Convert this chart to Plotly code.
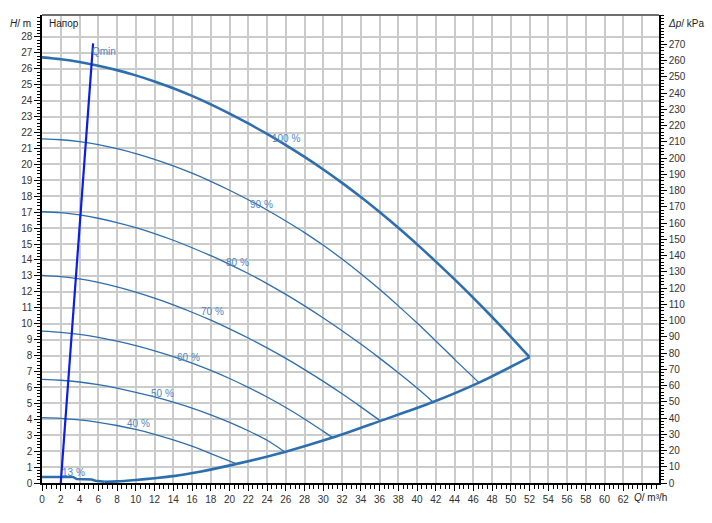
import plotly.graph_objects as go

# ---- data ----
q100 = [0, 2, 4, 6, 8, 10, 12, 14, 16, 18, 20, 22, 24, 26, 28, 30, 32, 34, 36, 38, 40, 42, 44, 46, 48, 50, 52]
h100 = [26.72, 26.6, 26.43, 26.2, 25.92, 25.59, 25.21, 24.78, 24.3, 23.77, 23.19, 22.57, 21.91, 21.21, 20.47,
        19.68, 18.84, 17.95, 17.01, 16.02, 14.98, 13.9, 12.78, 11.62, 10.42, 9.18, 7.9]
q90 = [0, 2, 4, 6, 8, 10, 12, 14, 16, 18, 20, 22, 24, 26, 28, 30, 32, 34, 36, 38, 40, 42, 44, 46.6]
h90 = [21.6, 21.55, 21.43, 21.24, 20.99, 20.68, 20.32, 19.91, 19.45, 18.94, 18.38, 17.78, 17.14, 16.45, 15.72,
       14.92, 14.06, 13.14, 12.16, 11.12, 10.04, 8.92, 7.76, 6.3]
q80 = [0, 2, 4, 6, 8, 10, 12, 14, 16, 18, 20, 22, 24, 26, 28, 30, 32, 34, 36, 38, 40, 41.7]
h80 = [17.03, 16.97, 16.83, 16.62, 16.35, 16.03, 15.66, 15.24, 14.77, 14.27, 13.73, 13.15, 12.52, 11.84, 11.12,
       10.36, 9.56, 8.72, 7.84, 6.92, 5.96, 5.08]
q70 = [0, 2, 4, 6, 8, 10, 12, 14, 16, 18, 20, 22, 24, 26, 28, 30, 32, 34, 36.1]
h70 = [13.04, 12.96, 12.81, 12.59, 12.31, 11.98, 11.6, 11.18, 10.72, 10.22, 9.68, 9.1, 8.48, 7.82, 7.12,
       6.38, 5.6, 4.78, 3.9]
q60 = [0, 2, 4, 6, 8, 10, 12, 14, 16, 18, 20, 22, 24, 26, 28, 30, 31.0]
h60 = [9.53, 9.46, 9.33, 9.14, 8.9, 8.62, 8.3, 7.94, 7.53, 7.07, 6.56, 6.0, 5.4, 4.74, 4.02, 3.24, 2.85]
q50 = [0, 2, 4, 6, 8, 10, 12, 14, 16, 18, 20, 22, 24, 25.9]
h50 = [6.5, 6.45, 6.34, 6.17, 5.95, 5.69, 5.4, 5.07, 4.7, 4.28, 3.81, 3.28, 2.68, 1.95]
q40 = [0, 2, 4, 6, 8, 10, 12, 14, 16, 18, 20.75]
h40 = [4.1, 4.06, 3.96, 3.81, 3.61, 3.36, 3.06, 2.71, 2.31, 1.85, 1.2]
q13 = [0, 3.3, 3.7, 5.3, 5.7, 6.7]
h13 = [0.38, 0.38, 0.25, 0.22, 0.14, 0.08]
q_sys = [6.7, 8, 10, 12, 14, 16.84, 20.75, 25.9, 31.0, 36.1, 41.7, 46.6, 52]
h_sys = [0.08, 0.1, 0.19, 0.3, 0.43, 0.71, 1.2, 1.95, 2.85, 3.9, 5.08, 6.3, 7.9]
q_min = [2, 5.45]
h_min = [0, 27.6]

curve_labels = ["100 %", "90 %", "80 %", "70 %", "60 %", "50 %", "40 %", "13 %", "Qmin"]
label_q = [26.0, 23.4, 20.8, 18.2, 15.6, 12.9, 10.3, 3.4, 6.6]
label_h = [21.6, 17.5, 13.87, 10.75, 7.89, 5.63, 3.75, 0.67, 27.07]

x_ticks = list(range(0, 66, 2))
y_ticks = list(range(0, 29))
kpa_ticks = list(range(0, 280, 10))

# ---- figure ----
LINE = "#2d6fae"
LBL = "#4f86bd"
FONT = "Liberation Sans, Arial, sans-serif"

fig = go.Figure()
thin = [(q90, h90), (q80, h80), (q70, h70), (q60, h60), (q50, h50), (q40, h40)]
for q, h in thin:
    fig.add_trace(go.Scatter(x=q, y=h, mode="lines", line=dict(color=LINE, width=1.3, shape="spline", smoothing=0.8),
                             hoverinfo="skip"))
for q, h in [(q100, h100), (q_sys, h_sys)]:
    fig.add_trace(go.Scatter(x=q, y=h, mode="lines", line=dict(color=LINE, width=2.6, shape="spline", smoothing=0.8),
                             hoverinfo="skip"))
fig.add_trace(go.Scatter(x=q13, y=h13, mode="lines", line=dict(color=LINE, width=2.6), hoverinfo="skip"))
fig.add_trace(go.Scatter(x=q_min, y=h_min, mode="lines", line=dict(color="#0a1ee6", width=2.2), hoverinfo="skip"))
# invisible trace to activate the right axis
fig.add_trace(go.Scatter(x=[0], y=[0], yaxis="y2", mode="markers", marker=dict(opacity=0), hoverinfo="skip"))

for t, qx, hy in zip(curve_labels, label_q, label_h):
    fig.add_annotation(x=qx, y=hy, text=t, showarrow=False, font=dict(family=FONT, size=10, color=LBL))

tick_font = dict(family=FONT, size=10, color="#333333")
fig.update_layout(
    width=712, height=523,
    margin=dict(l=42, r=53, t=15, b=40, autoexpand=False),
    paper_bgcolor="white", plot_bgcolor="white",
    showlegend=False,
    xaxis=dict(range=[0, 65.8], tickvals=x_ticks, automargin=False,
               ticktext=[str(v) if v <= 62 else "" for v in x_ticks],
               showgrid=True, gridcolor="#cbcbcb", gridwidth=1.5,
               showline=True, linecolor="black", linewidth=1.5,
               ticks="outside", ticklen=6, tickwidth=1.3, tickcolor="black",
               minor=dict(dtick=0.5, tick0=0, ticks="outside", ticklen=4, tickwidth=1, tickcolor="black", showgrid=False),
               tickfont=tick_font, zeroline=False, fixedrange=True),
    yaxis=dict(range=[0, 29.38], tickvals=y_ticks, automargin=False,
               showgrid=True, gridcolor="#cbcbcb", gridwidth=1.5,
               showline=True, linecolor="black", linewidth=1.5,
               ticks="outside", ticklen=6, tickwidth=1.3, tickcolor="black",
               minor=dict(dtick=0.2, tick0=0, ticks="outside", ticklen=3, tickwidth=1, tickcolor="black", showgrid=False),
               tickfont=tick_font, zeroline=False, fixedrange=True),
    yaxis2=dict(range=[0, 29.38 * 9.80665], overlaying="y", side="right", tickvals=kpa_ticks, automargin=False,
                showgrid=False, showline=True, linecolor="black", linewidth=1.5,
                ticks="outside", ticklen=6, tickwidth=1.3, tickcolor="black",
                minor=dict(dtick=2, tick0=0, ticks="outside", ticklen=3, tickwidth=1, tickcolor="black"),
                tickfont=tick_font, zeroline=False, fixedrange=True),
)
fig.add_shape(type="line", xref="paper", yref="paper", x0=0, x1=1, y0=1, y1=1,
              line=dict(color="#6e6e6e", width=2))

fig.add_annotation(xref="paper", yref="paper", x=-0.015, y=0.981, xanchor="right", yanchor="middle",
                   text="<i>H</i>/ m", showarrow=False, font=dict(family=FONT, size=10, color="#222"))
fig.add_annotation(xref="paper", yref="paper", x=0.008, y=0.981, xanchor="left", yanchor="middle",
                   text="Напор", showarrow=False, font=dict(family=FONT, size=10, color="#222"))
fig.add_annotation(xref="paper", yref="paper", x=1.012, y=0.981, xanchor="left", yanchor="middle",
                   text="<i>Δp</i>/ kPa", showarrow=False, font=dict(family=FONT, size=10, color="#222"))
fig.add_annotation(xref="x", yref="paper", x=62.95, y=-0.03, xanchor="left", yanchor="middle",
                   text="<i>Q</i>/ m³/h", showarrow=False, font=dict(family=FONT, size=10, color="#222"))

fig.write_html("out.html", config={"displayModeBar": False},
               post_script="document.body.style.margin='0px';document.body.style.overflow='hidden';")
